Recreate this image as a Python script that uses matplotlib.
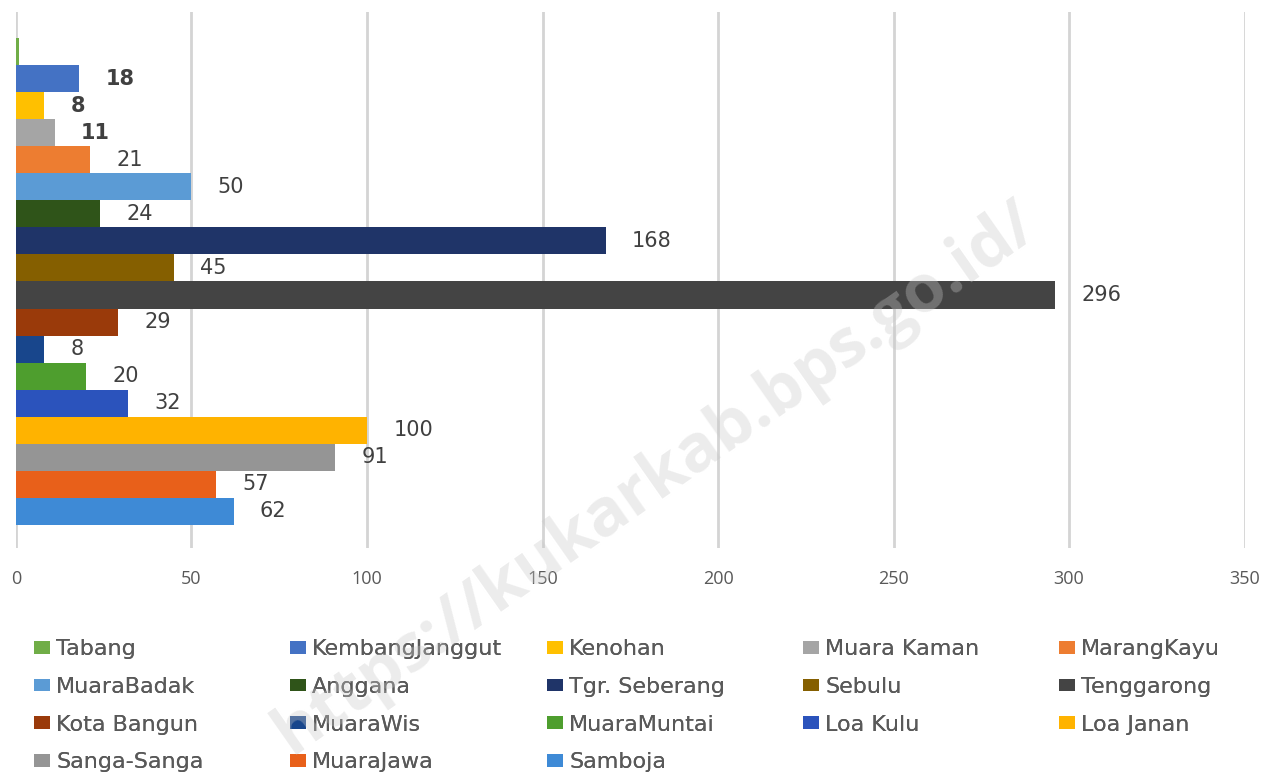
import numpy as np
import matplotlib as mpl
import matplotlib.pyplot as plt
from matplotlib.patches import Patch

mpl.rcParams['font.family'] = ['Open Sans', 'DejaVu Sans']

# data, top to bottom as drawn
districts = ['Tabang', 'KembangJanggut', 'Kenohan', 'Muara Kaman', 'MarangKayu',
             'MuaraBadak', 'Anggana', 'Tgr. Seberang', 'Sebulu', 'Tenggarong',
             'Kota Bangun', 'MuaraWis', 'MuaraMuntai', 'Loa Kulu', 'Loa Janan',
             'Sanga-Sanga', 'MuaraJawa', 'Samboja']
values = [1, 18, 8, 11, 21, 50, 24, 168, 45, 296, 29, 8, 20, 32, 100, 91, 57, 62]
show_label = [False] + [True] * 17
bold_label = [False, True, True, True] + [False] * 14
colors = ['#70AD47', '#4472C4', '#FFC000', '#A5A5A5', '#ED7D31',
          '#5B9BD5', '#2F5419', '#1F3468', '#855F00', '#444444',
          '#9A3A0A', '#18468C', '#4E9E2E', '#2B53BC', '#FFB300',
          '#959595', '#E8601A', '#3E8AD6']
xticks = [0, 50, 100, 150, 200, 250, 300, 350]

fig = plt.figure(figsize=(12.86, 7.77), dpi=100)
ax = fig.add_axes([0.0124, 0.2947, 0.9554, 0.6899])

ypos = np.arange(len(values))
for i in range(len(values)):
    ax.barh(ypos[i], values[i], height=1.0, color=colors[i], zorder=3,
            label=districts[i])
    if show_label[i]:
        ax.annotate(str(values[i]), (values[i], ypos[i]), xytext=(19, 0),
                    textcoords='offset points', va='center', ha='left',
                    fontsize=15, color='#404040', family='DejaVu Sans',
                    fontweight='bold' if bold_label[i] else 'normal')

ax.set_xlim(0, 350)
ax.set_ylim(18.35, -1.46)
ax.set_xticks(xticks)
ax.set_yticks([])
ax.grid(axis='x', color='#D4D4D4', linewidth=2, zorder=0)
for s in ax.spines.values():
    s.set_visible(False)
ax.tick_params(axis='x', length=0, pad=16, labelsize=13, labelcolor='#595959')

# legend, filled row by row like the original (5 columns)
handles = [Patch(facecolor=c) for c in colors]
col_x = [0.0264, 0.2255, 0.4253, 0.6244, 0.8235]
for c in range(5):
    idx = list(range(c, len(districts), 5))
    leg = fig.legend([handles[k] for k in idx], [districts[k] for k in idx],
                     loc='upper left', bbox_to_anchor=(col_x[c], 0.1775),
                     frameon=False, prop={'family': 'DejaVu Sans', 'size': 16},
                     labelcolor='#595959',
                     handlelength=0.72, handleheight=0.5, handletextpad=0.28,
                     labelspacing=0.8, borderaxespad=0, borderpad=0)
    fig.add_artist(leg)

# watermark
fig.text(0.51, 0.385, 'https://kukarkab.bps.go.id/', rotation=35,
         ha='center', va='center', fontsize=48, fontweight='bold',
         color='#C8C8C8', alpha=0.35, zorder=10)

fig.savefig('out.png', dpi=100)
